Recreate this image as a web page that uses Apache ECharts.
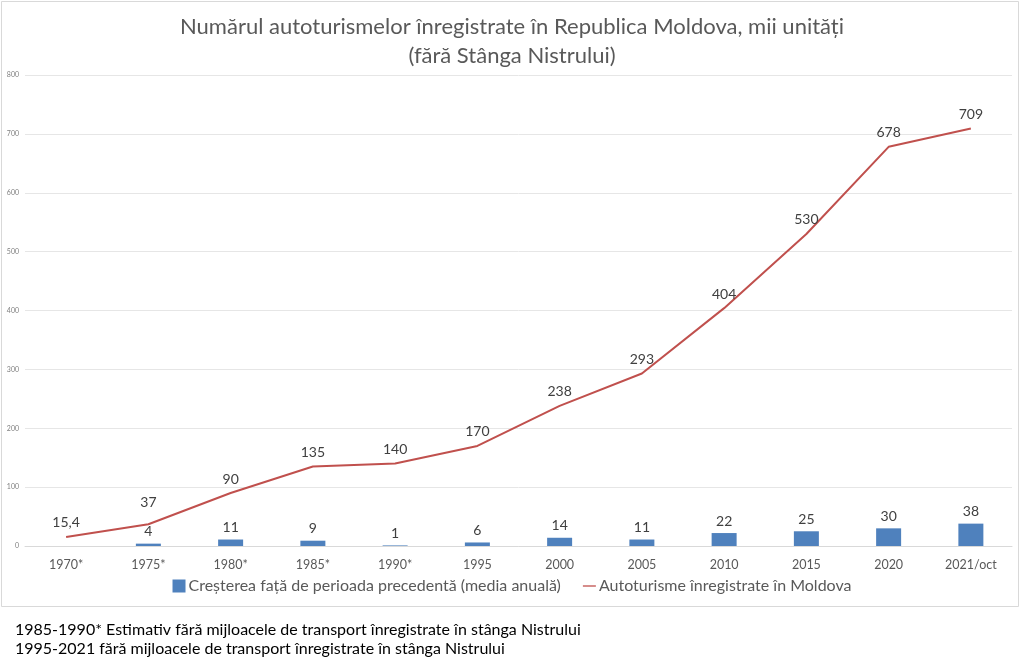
<!DOCTYPE html>
<html><head><meta charset="utf-8">
<script src="https://cdn.jsdelivr.net/npm/echarts@6/dist/echarts.min.js"></script>
<style>html,body{margin:0;padding:0;background:#fff}#c{width:1024px;height:663px}</style>
</head><body><div id="c"></div>
<script>
const categories = ['1970*','1975*','1980*','1985*','1990*','1995','2000','2005','2010','2015','2020','2021/oct'];
const growth = [null,4,11,9,1,6,14,11,22,25,30,38];
const registered = [15.4,37,90,135,140,170,238,293,404,530,678,709];
const yTicks = {min:0,max:800,interval:100};
const FONT = 'Lato';
const chart = echarts.init(document.getElementById('c'));
chart.setOption({
  backgroundColor:'#fff',
  animation:false,
  textStyle:{fontFamily:FONT},
  title:{
    text:'Numărul autoturismelor înregistrate în Republica Moldova, mii unități\n(fără Stânga Nistrului)',
    left:'center', top:7,
    textStyle:{fontFamily:FONT,fontSize:22,fontWeight:'normal',color:'#595959',lineHeight:29}
  },
  legend:{
    bottom:64, left:'center', itemGap:22, itemWidth:13, itemHeight:13,
    textStyle:{fontFamily:FONT,fontSize:16,color:'#595959',padding:[0,0,0,-2]},
    data:[{name:'Creșterea față de perioada precedentă (media anuală)',icon:'rect'},
          {name:'Autoturisme înregistrate în Moldova',icon:'path://M0,0H20V2H0Z'}]
  },
  grid:{left:25,right:12,top:75,bottom:117},
  xAxis:{
    type:'category', data:categories,
    axisLine:{lineStyle:{color:'#d9d9d9'}}, axisTick:{show:false},
    axisLabel:{color:'#595959',fontSize:12.5,margin:12,fontFamily:FONT}
  },
  yAxis:{
    type:'value', min:yTicks.min, max:yTicks.max, interval:yTicks.interval,
    axisLabel:{color:'#7f7f7f',fontSize:7,margin:6},
    splitLine:{lineStyle:{color:'#e6e6e6'}}, axisLine:{show:false}
  },
  series:[
    {name:'Creșterea față de perioada precedentă (media anuală)',type:'bar',data:growth,
     barWidth:25,itemStyle:{color:'#4f81bd'},
     label:{show:true,position:'top',distance:5,color:'#404040',fontSize:14,fontFamily:FONT}},
    {name:'Autoturisme înregistrate în Moldova',type:'line',
     data:registered.map((v,i)=> i===1 ? {value:v,label:{distance:15}} : v),
     symbol:'circle',symbolSize:0,showSymbol:true,lineStyle:{color:'#c0504d',width:2},itemStyle:{color:'#c0504d'},
     label:{show:true,position:'top',distance:7,color:'#404040',fontSize:14,fontFamily:FONT,
       formatter:p=>String(p.value).replace('.',',')}}
  ],
  graphic:[
    {type:'rect',shape:{x:1.5,y:1.5,width:1017,height:605},style:{fill:null,stroke:'#d9d9d9',lineWidth:1},silent:true},
    {type:'text',left:15,top:622,style:{text:'1985-1990* Estimativ fără mijloacele de transport înregistrate în stânga Nistrului',font:'16px Lato',fill:'#000'}},
    {type:'text',left:15,top:641,style:{text:'1995-2021 fără mijloacele de transport înregistrate în stânga Nistrului',font:'16px Lato',fill:'#000'}}
  ]
});
</script></body></html>
